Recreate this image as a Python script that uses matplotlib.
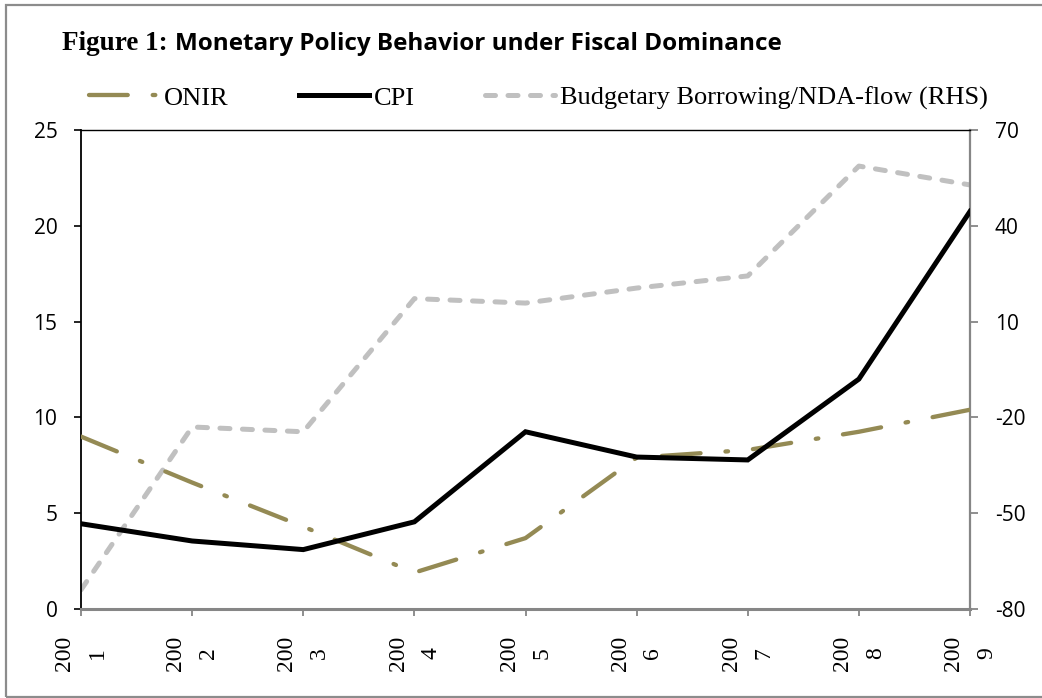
import matplotlib
matplotlib.use("Agg")
import matplotlib.pyplot as plt
import matplotlib.transforms as mtransforms
from matplotlib.lines import Line2D
from matplotlib.patches import Rectangle

years = ["2001", "2002", "2003", "2004", "2005", "2006", "2007", "2008", "2009"]
onir = [9.0, 6.6, 4.3, 1.9, 3.7, 7.9, 8.3, 9.25, 10.4]
cpi = [4.45, 3.55, 3.1, 4.55, 9.25, 7.93, 7.78, 12.0, 20.75]
budget_nda = [-74.0, -23.0, -24.5, 17.2, 15.8, 20.5, 24.3, 58.7, 52.8]

left_ticks = [0, 5, 10, 15, 20, 25]
right_ticks = [-80, -50, -20, 10, 40, 70]
tick_labels = [y[:3] + "\n" + y[3:] for y in years]

plt.rcParams["axes.unicode_minus"] = False

W, H = 1042, 698
fig = plt.figure(figsize=(W / 100, H / 100), dpi=100)
fig.patch.set_facecolor("white")

# outer frame of the exhibit
fig.patches.append(Rectangle((6 / W, 1 - 697 / H), 1.1, (697 - 5) / H,
                             transform=fig.transFigure, fill=False,
                             edgecolor="#8c8c8c", linewidth=1.6))

ax = fig.add_axes([81 / W, 1 - 609 / H, (970 - 81) / W, (609 - 130) / H])
ax2 = ax.twinx()

x = list(range(len(years)))
onir_color = "#948a54"
grey = "#c0c0c0"
axis_grey = "#868686"
onir_dash = (9.0, 5.8, 0.6, 5.8)
bud_dash = (2.0, 2.5)

(l_onir,) = ax.plot(x, onir, color=onir_color, linewidth=3.1,
                    dashes=onir_dash, dash_capstyle="round",
                    solid_joinstyle="round", zorder=3)
(l_cpi,) = ax.plot(x, cpi, color="black", linewidth=3.6,
                   solid_joinstyle="miter", zorder=4)
(l_bud,) = ax2.plot(x, budget_nda, color=grey, linewidth=3.6,
                    dashes=bud_dash, dash_capstyle="round", zorder=2)

ax.set_zorder(ax2.get_zorder() + 1)
ax.patch.set_visible(False)

ax.set_xlim(0, len(years) - 1)
ax.set_ylim(0, 25)
ax2.set_ylim(-80, 70)
ax.set_yticks(left_ticks)
ax2.set_yticks(right_ticks)
ax.set_xticks(x)
ax.set_xticklabels(tick_labels, rotation=90, family="Liberation Serif",
                   fontsize=17, ha="center", va="top",
                   multialignment="center")
shift = mtransforms.ScaledTranslation(4 / 100, 0, fig.dpi_scale_trans)
for lab in ax.get_xticklabels():
    lab.set_linespacing(1.72)
    lab.set_transform(lab.get_transform() + shift)

for a in (ax, ax2):
    for s in a.spines.values():
        s.set_linewidth(1.3)
ax.spines["left"].set_color("black")
ax.spines["top"].set_color("black")
ax.spines["top"].set_linewidth(1.0)
ax.spines["bottom"].set_color(axis_grey)
ax.spines["bottom"].set_linewidth(2.2)
ax.spines["right"].set_color(axis_grey)
ax2.spines["right"].set_color(axis_grey)
ax2.spines["right"].set_linewidth(1.6)
ax2.spines["left"].set_visible(False)
ax2.spines["top"].set_visible(False)
ax2.spines["bottom"].set_visible(False)

ax.tick_params(axis="y", direction="out", length=5, width=1.2, color="black",
               pad=12, labelsize=15)
ax.tick_params(axis="x", direction="out", length=5, width=1.3,
               color=axis_grey, pad=14)
ax2.tick_params(axis="y", direction="out", length=6, width=1.3,
                color=axis_grey, pad=12, labelsize=15)
for lab in ax.get_yticklabels() + ax2.get_yticklabels():
    lab.set_family("Open Sans")

# legend
handles = [
    Line2D([], [], color=onir_color, linewidth=3.1, dashes=onir_dash,
           dash_capstyle="round"),
    Line2D([], [], color="black", linewidth=3.6),
    Line2D([], [], color=grey, linewidth=3.6, dashes=bud_dash,
           dash_capstyle="round"),
]
labels = ["ONIR", "CPI", "Budgetary Borrowing/NDA-flow (RHS)"]
leg = fig.legend(handles, labels, loc="center left",
                 bbox_to_anchor=(89 / W, 1 - 98 / H), ncol=3, frameon=False,
                 prop={"family": "Liberation Serif", "size": 19},
                 handlelength=2.65, handletextpad=0.2, columnspacing=2.65,
                 borderpad=0, borderaxespad=0)

# title: serif "Figure 1:" followed by bold sans text
t1 = fig.text(62 / W, 1 - 50 / H, "Figure 1:", family="Liberation Serif",
              fontweight="bold", fontsize=19.5, ha="left", va="baseline")
fig.canvas.draw()
r = fig.canvas.get_renderer()
bb = t1.get_window_extent(r)
t2 = fig.text((bb.x1 + 7) / W, 1 - 50 / H,
              "Monetary Policy Behavior under Fiscal Dominance",
              family="Open Sans", fontweight="bold", fontsize=18,
              ha="left", va="baseline")
w2 = t2.get_window_extent(r).width
t2.set_fontsize(18 * (783 - bb.x1 - 7) / w2)

fig.savefig("out.png", dpi=100)
